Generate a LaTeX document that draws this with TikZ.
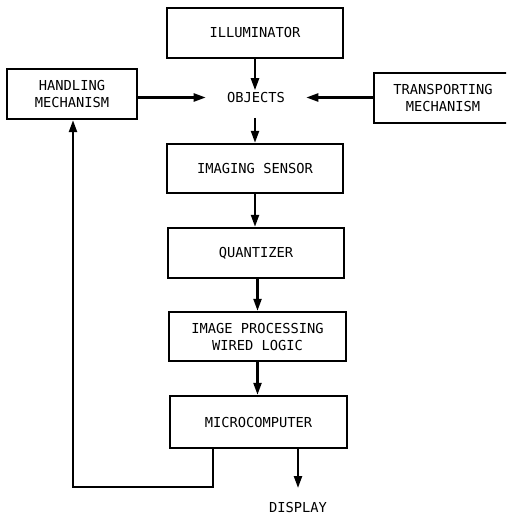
\documentclass[tikz,border=0pt]{standalone}
\usepackage{fontspec}
\setmonofont{DejaVu Sans Mono}
\usetikzlibrary{arrows.meta}
\begin{document}
\begin{tikzpicture}[x=0.75pt,y=-0.75pt,
  every node/.style={font=\ttfamily\fontsize{10.3}{12.75}\selectfont,align=center,inner sep=0pt},
  blk/.style={draw,line width=1.8pt,minimum height={50*0.75pt}},
  conn/.style={line width=1.7pt},
  arr/.style={conn,-{Triangle[length=9pt,width=6pt]}}]
\fill[white] (0,0) rectangle (506,516);
\useasboundingbox (0,0) rectangle (506,516);
\begin{scope}
\clip (0,0) rectangle (506,516);
\node[blk,minimum width={176*0.75pt}] (illum) at (255,33) {ILLUMINATOR};
\node[blk,minimum width={130*0.75pt}] (handling) at (72,94) {HANDLING\\MECHANISM};
\node[blk,minimum width={138*0.75pt}] (transport) at (443,98) {TRANSPORTING\\MECHANISM};
\node[minimum width={100*0.75pt},minimum height={14*0.75pt}] (objects) at (256,97.5) {OBJECTS};
\node[blk,minimum width={176*0.75pt},minimum height={49*0.75pt}] (sensor) at (255,168.5) {IMAGING SENSOR};
\node[blk,minimum width={176*0.75pt}] (quant) at (256,253) {QUANTIZER};
\node[blk,minimum width={177*0.75pt},minimum height={49*0.75pt}] (improc) at (257.5,336.5) {IMAGE PROCESSING\\WIRED LOGIC};
\node[blk,minimum width={177*0.75pt},minimum height={52*0.75pt}] (micro) at (258.5,422) {MICROCOMPUTER};
\node (display) at (298,507) {DISPLAY};
\coordinate (fb1) at (213,487);
\coordinate (fb2) at (73,487);
\coordinate (dispend) at (298,488);

\draw[arr] (illum.south) -- (objects.north -| illum.south);
\draw[arr] (handling.east |- objects.west) -- (objects.west);
\draw[arr] (transport.west |- objects.east) -- (objects.east);
\draw[arr] ([yshift=-13*0.75pt]objects.south -| sensor.north) -- (sensor.north);
\draw[arr] (sensor.south) -- (quant.north -| sensor.south);
\draw[arr] (quant.south -| improc.north) -- (improc.north);
\draw[arr] (improc.south) -- (micro.north -| improc.south);
\draw[arr] (micro.south -| fb1) -- (fb1) -- (fb2) -- (handling.south -| fb2);
\draw[arr] (micro.south -| dispend) -- (dispend);
\end{scope}
\end{tikzpicture}
\end{document}
